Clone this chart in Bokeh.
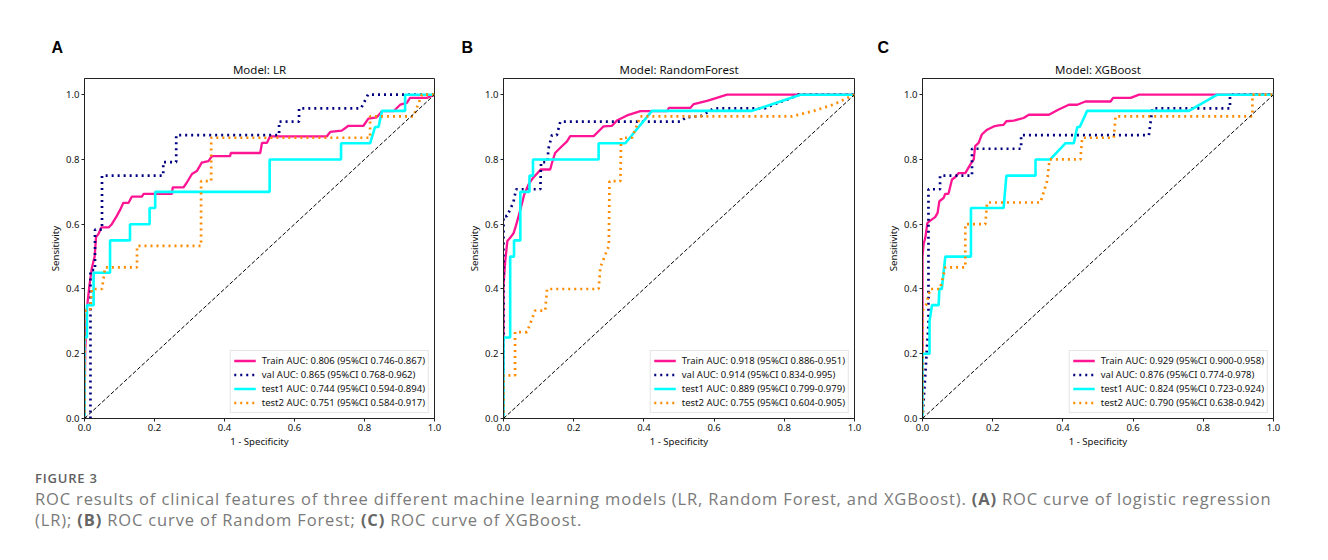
from bokeh.plotting import figure
from bokeh.layouts import row, column
from bokeh.models import (Div, Title, Legend, LegendItem, Range1d, FixedTicker,
                          PrintfTickFormatter, ColumnDataSource)
from bokeh.embed import file_html
from bokeh.resources import INLINE

# ---------------- data ----------------
panel_letters = ["A", "B", "C"]
model_names = ["LR", "RandomForest", "XGBoost"]
set_names = ["Train", "val", "test1", "test2"]

auc_lr = [0.806, 0.865, 0.744, 0.751]
ci_lo_lr = [0.746, 0.768, 0.594, 0.584]
ci_hi_lr = [0.867, 0.962, 0.894, 0.917]
auc_rf = [0.918, 0.914, 0.889, 0.755]
ci_lo_rf = [0.886, 0.834, 0.799, 0.604]
ci_hi_rf = [0.951, 0.995, 0.979, 0.905]
auc_xgb = [0.929, 0.876, 0.824, 0.790]
ci_lo_xgb = [0.900, 0.774, 0.723, 0.638]
ci_hi_xgb = [0.958, 0.978, 0.924, 0.942]

# LR
lr_train_fpr = [0, 0.002, 0.007, 0.014, 0.021, 0.029, 0.033, 0.04, 0.048, 0.069, 0.078, 0.092, 0.102, 0.111, 0.126, 0.135, 0.164, 0.169, 0.25, 0.252, 0.283, 0.292, 0.307, 0.321, 0.335, 0.354, 0.364, 0.416, 0.418, 0.502, 0.507, 0.521, 0.53, 0.692, 0.702, 0.735, 0.754, 0.797, 0.811, 0.835, 0.85, 0.883, 0.902, 0.921, 0.93, 0.978, 1.0]
lr_train_tpr = [0, 0.21, 0.34, 0.41, 0.465, 0.5, 0.56, 0.57, 0.59, 0.59, 0.6, 0.625, 0.645, 0.666, 0.666, 0.685, 0.685, 0.694, 0.694, 0.714, 0.714, 0.728, 0.755, 0.764, 0.79, 0.795, 0.81, 0.81, 0.82, 0.82, 0.851, 0.851, 0.871, 0.871, 0.885, 0.889, 0.904, 0.904, 0.926, 0.93, 0.949, 0.949, 0.969, 0.975, 0.99, 0.99, 1.0]
lr_val_fpr = [0, 0.017, 0.017, 0.03, 0.03, 0.05, 0.05, 0.225, 0.225, 0.262, 0.262, 0.556, 0.556, 0.613, 0.613, 0.79, 0.81, 1.0]
lr_val_tpr = [0, 0, 0.458, 0.458, 0.583, 0.583, 0.75, 0.75, 0.792, 0.792, 0.875, 0.875, 0.917, 0.917, 0.958, 0.958, 1.0, 1.0]
lr_test1_fpr = [0, 0, 0.007, 0.007, 0.026, 0.026, 0.073, 0.073, 0.13, 0.13, 0.186, 0.186, 0.202, 0.202, 0.529, 0.529, 0.733, 0.733, 0.816, 0.83, 0.84, 0.85, 0.916, 0.916, 1.0]
lr_test1_tpr = [0, 0.25, 0.25, 0.35, 0.35, 0.45, 0.45, 0.55, 0.55, 0.6, 0.6, 0.65, 0.65, 0.7, 0.7, 0.8, 0.8, 0.85, 0.85, 0.9, 0.9, 0.95, 0.95, 1.0, 1.0]
lr_test2_fpr = [0, 0, 0.016, 0.021, 0.05, 0.059, 0.15, 0.15, 0.333, 0.333, 0.362, 0.362, 0.816, 0.816, 0.94, 0.964, 1.0]
lr_test2_tpr = [0, 0.333, 0.333, 0.4, 0.4, 0.467, 0.467, 0.533, 0.533, 0.733, 0.733, 0.867, 0.867, 0.933, 0.933, 1.0, 1.0]

# RandomForest
rf_train_fpr = [0, 0, 0.005, 0.011, 0.019, 0.029, 0.035, 0.043, 0.052, 0.059, 0.071, 0.084, 0.097, 0.106, 0.133, 0.138, 0.147, 0.162, 0.181, 0.19, 0.257, 0.271, 0.285, 0.309, 0.323, 0.352, 0.39, 0.466, 0.471, 0.532, 0.542, 0.58, 0.637, 1.0]
rf_train_tpr = [0, 0.41, 0.486, 0.548, 0.558, 0.573, 0.594, 0.625, 0.661, 0.692, 0.722, 0.743, 0.758, 0.769, 0.769, 0.789, 0.82, 0.836, 0.856, 0.872, 0.872, 0.887, 0.902, 0.904, 0.92, 0.936, 0.949, 0.949, 0.959, 0.959, 0.971, 0.981, 1.0, 1.0]
rf_val_fpr = [0, 0, 0.01, 0.028, 0.036, 0.105, 0.107, 0.125, 0.128, 0.138, 0.152, 0.162, 0.504, 0.52, 0.565, 0.6, 0.745, 0.77, 0.82, 0.84, 1.0]
rf_val_tpr = [0, 0.625, 0.625, 0.667, 0.708, 0.708, 0.792, 0.792, 0.833, 0.875, 0.875, 0.917, 0.917, 0.93, 0.935, 0.958, 0.958, 0.97, 0.99, 1.0, 1.0]
rf_test1_fpr = [0, 0, 0.019, 0.019, 0.03, 0.03, 0.048, 0.048, 0.074, 0.074, 0.084, 0.084, 0.271, 0.271, 0.347, 0.423, 0.708, 0.846, 1.0]
rf_test1_tpr = [0, 0.25, 0.25, 0.5, 0.5, 0.55, 0.55, 0.7, 0.7, 0.75, 0.75, 0.8, 0.8, 0.85, 0.85, 0.95, 0.95, 1.0, 1.0]
rf_test2_fpr = [0, 0, 0.033, 0.033, 0.067, 0.09, 0.119, 0.124, 0.271, 0.276, 0.3, 0.302, 0.333, 0.335, 0.366, 0.39, 0.822, 0.884, 0.941, 1.0]
rf_test2_tpr = [0, 0.133, 0.133, 0.267, 0.267, 0.333, 0.333, 0.4, 0.4, 0.467, 0.533, 0.733, 0.733, 0.867, 0.867, 0.933, 0.933, 0.95, 0.97, 1.0]

# XGBoost
xgb_train_fpr = [0, 0, 0.003, 0.008, 0.014, 0.027, 0.036, 0.043, 0.048, 0.06, 0.065, 0.074, 0.084, 0.093, 0.103, 0.122, 0.136, 0.146, 0.15, 0.16, 0.169, 0.184, 0.203, 0.217, 0.231, 0.239, 0.26, 0.288, 0.303, 0.36, 0.388, 0.417, 0.441, 0.464, 0.536, 0.543, 0.593, 0.617, 1.0]
xgb_train_tpr = [0, 0.5, 0.538, 0.558, 0.604, 0.615, 0.622, 0.635, 0.671, 0.681, 0.694, 0.694, 0.738, 0.745, 0.758, 0.758, 0.784, 0.8, 0.841, 0.851, 0.877, 0.892, 0.902, 0.905, 0.907, 0.918, 0.92, 0.928, 0.938, 0.938, 0.954, 0.969, 0.969, 0.979, 0.979, 0.99, 0.99, 1.0, 1.0]
xgb_val_fpr = [0, 0.017, 0.017, 0.05, 0.05, 0.141, 0.141, 0.281, 0.281, 0.645, 0.65, 0.655, 0.876, 0.876, 1.0]
xgb_val_tpr = [0, 0.292, 0.708, 0.708, 0.75, 0.75, 0.833, 0.833, 0.875, 0.875, 0.917, 0.958, 0.958, 1.0, 1.0]
xgb_test1_fpr = [0, 0, 0.02, 0.02, 0.027, 0.046, 0.048, 0.055, 0.06, 0.065, 0.138, 0.138, 0.231, 0.235, 0.239, 0.322, 0.322, 0.364, 0.407, 0.431, 0.441, 0.448, 0.469, 0.759, 0.84, 1.0]
xgb_test1_tpr = [0, 0.2, 0.2, 0.3, 0.35, 0.35, 0.4, 0.4, 0.45, 0.5, 0.5, 0.65, 0.65, 0.7, 0.75, 0.75, 0.8, 0.8, 0.85, 0.85, 0.9, 0.9, 0.95, 0.95, 1.0, 1.0]
xgb_test2_fpr = [0, 0, 0.01, 0.022, 0.05, 0.065, 0.122, 0.122, 0.179, 0.184, 0.336, 0.355, 0.362, 0.45, 0.455, 0.545, 0.55, 0.94, 0.94, 1.0]
xgb_test2_tpr = [0, 0.333, 0.35, 0.4, 0.4, 0.467, 0.467, 0.6, 0.6, 0.667, 0.667, 0.733, 0.8, 0.8, 0.867, 0.867, 0.933, 0.933, 1.0, 1.0]

chance_x = [0, 1]
chance_y = [0, 1]
axis_ticks = [0.0, 0.2, 0.4, 0.6, 0.8, 1.0]

caption_label = "FIGURE 3"

# ---------------- styling ----------------
FONT = "Noto Sans"
BORDER = "#c8c8c8"
set_styles = [
    dict(line_color="#ff1493", line_width=2.3, line_dash="solid"),
    dict(line_color="#000080", line_width=2.7, line_dash="2 4"),
    dict(line_color="#00ffff", line_width=2.6, line_dash="solid"),
    dict(line_color="#ff8c00", line_width=2.7, line_dash="2 4"),
]

curves = [
    [(lr_train_fpr, lr_train_tpr), (lr_val_fpr, lr_val_tpr), (lr_test1_fpr, lr_test1_tpr), (lr_test2_fpr, lr_test2_tpr)],
    [(rf_train_fpr, rf_train_tpr), (rf_val_fpr, rf_val_tpr), (rf_test1_fpr, rf_test1_tpr), (rf_test2_fpr, rf_test2_tpr)],
    [(xgb_train_fpr, xgb_train_tpr), (xgb_val_fpr, xgb_val_tpr), (xgb_test1_fpr, xgb_test1_tpr), (xgb_test2_fpr, xgb_test2_tpr)],
]
aucs = [(auc_lr, ci_lo_lr, ci_hi_lr), (auc_rf, ci_lo_rf, ci_hi_rf), (auc_xgb, ci_lo_xgb, ci_hi_xgb)]

# geometry per panel: (min_border_left, min_border_right, letter offset)
geo = [(79, 24, -33), (45, 23, -42), (45, 53, -45)]
FRAME_W = [350, 351, 351]


def make_panel(i):
    bl, br, loff = geo[i]
    p = figure(width=bl + FRAME_W[i] + br, height=73 + 340 + 38,
               x_range=Range1d(0, 1), y_range=Range1d(0, 1.05),
               output_backend="svg", toolbar_location=None,
               min_border_left=bl, min_border_right=br,
               min_border_top=73, min_border_bottom=38,
               background_fill_color="white", border_fill_color="white")
    p.title = None
    p.add_layout(Title(text="Model: " + model_names[i], align="center",
                       text_font=FONT, text_font_size="11.5px",
                       text_font_style="normal", text_color="#111111",
                       standoff=3), "above")
    p.add_layout(Title(text=panel_letters[i], align="left", offset=loff,
                       text_font="Liberation Sans", text_font_size="16px",
                       text_font_style="bold", text_color="black",
                       standoff=6), "above")
    p.grid.visible = False
    p.outline_line_color = "#222222"
    p.outline_line_width = 1
    for ax in (p.xaxis[0], p.yaxis[0]):
        ax.ticker = FixedTicker(ticks=axis_ticks)
        ax.formatter = PrintfTickFormatter(format="%.1f")
        ax.minor_tick_line_color = None
        ax.major_tick_in = 0
        ax.major_tick_out = 3
        ax.major_tick_line_color = "#222222"
        ax.axis_line_color = "#222222"
        ax.major_label_text_font = FONT
        ax.major_label_text_font_size = "9.5px"
        ax.major_label_text_color = "#111111"
        ax.major_label_standoff = 2
        ax.axis_label_text_font = FONT
        ax.axis_label_text_font_size = "9.6px"
        ax.axis_label_text_font_style = "normal"
        ax.axis_label_text_color = "#111111"
        ax.axis_label_standoff = 1
    p.xaxis.axis_label = "1 - Specificity"
    p.yaxis.axis_label = "Sensitivity"

    auc, lo, hi = aucs[i]
    items = []
    for k, (fx, ty) in enumerate(curves[i]):
        assert len(fx) == len(ty)
        src = ColumnDataSource(dict(x=fx, y=ty))
        r = p.line("x", "y", source=src, **set_styles[k])
        label = "%s AUC: %.3f (95%%CI %.3f-%.3f)" % (set_names[k], auc[k], lo[k], hi[k])
        items.append(LegendItem(label=label, renderers=[r]))
    p.line(chance_x, chance_y, line_color="black", line_width=1, line_dash="4 2")

    leg = Legend(items=items, location="bottom_right",
                 label_text_font=FONT, label_text_font_size="9.5px",
                 label_text_color="#111111",
                 label_height=13, glyph_height=13, glyph_width=22,
                 label_standoff=6, spacing=1, padding=3, margin=5,
                 border_line_color="#cccccc", border_line_width=1,
                 background_fill_color="white", background_fill_alpha=0.85)
    p.add_layout(leg, "center")
    return p


panels = [make_panel(i) for i in range(3)]

caption_html = (
    '<div style="font-family:\'Open Sans\',\'Lato\',sans-serif;">'
    '<div style="font-size:13px;font-weight:600;color:#5f5f5f;line-height:14px;'
    'letter-spacing:0.8px;">' + caption_label + '</div>'
    '<div style="font-size:16.5px;color:#7a7a7a;line-height:20.5px;margin-top:4px;'
    'letter-spacing:0.85px;white-space:nowrap;">'
    'ROC results of clinical features of three different machine learning models '
    '(LR, Random Forest, and XGBoost). <b style="color:#666;">(A)</b> ROC curve of logistic regression<br>'
    '(LR); <b style="color:#666;">(B)</b> ROC curve of Random Forest; '
    '<b style="color:#666;">(C)</b> ROC curve of XGBoost.'
    '</div></div>'
)
caption = Div(text=caption_html, width=1321, height=99, margin=0,
              styles={"padding-left": "30px", "padding-top": "15px"})

layout = column(row(*panels, spacing=0), caption, spacing=0, margin=(5, 0, 0, 5))

html = file_html(layout, INLINE)
# thin grey frame around the whole figure (top, left and right edges)
frame_div = ('<div style="position:absolute;left:4px;top:4px;width:1321px;height:620px;'
             'border:1px solid %s;border-bottom:none;pointer-events:none;z-index:10;"></div>' % BORDER)
if "<body>" in html:
    html = html.replace("<body>", "<body>\n" + frame_div, 1)
open("out.html", "w").write(html)
